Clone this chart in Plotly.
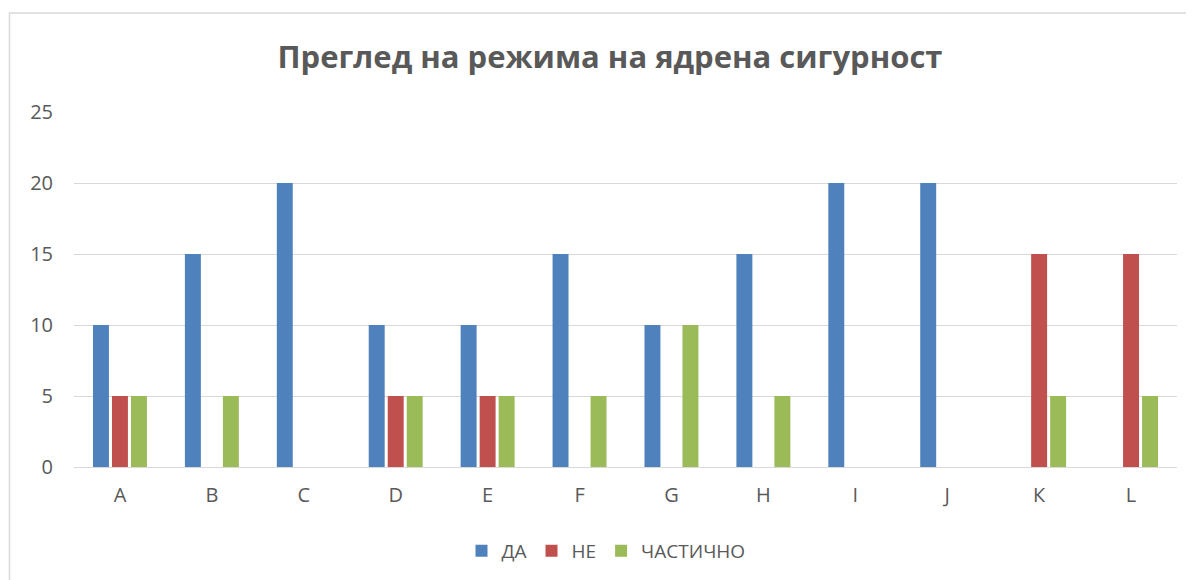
import plotly.graph_objects as go

categories = ["A", "B", "C", "D", "E", "F", "G", "H", "I", "J", "К", "L"]
da = [10, 15, 20, 10, 10, 15, 10, 15, 20, 20, 0, 0]
ne = [5, 0, 0, 5, 5, 0, 0, 0, 0, 0, 15, 15]
chastichno = [5, 5, 0, 5, 5, 5, 10, 5, 0, 0, 5, 5]

series = [("ДА", da, "#4F81BD"), ("НЕ", ne, "#C0504D"), ("ЧАСТИЧНО", chastichno, "#9BBB59")]

OFF = 8  # page body margin
W, H = 1194 - OFF, 580 - OFF
L, R, T, B = 74 - OFF, 17, 112 - OFF, 113

fig = go.Figure()
for name, vals, col in series:
    fig.add_trace(go.Bar(x=categories, y=vals, name=name, marker=dict(color=col, line=dict(width=0))))

pw = W - L - R
ph = H - T - B
def px_x(x):
    return (x - OFF - L) / pw
def px_y(y):
    return 1 - (y - OFF - T) / ph

fig.update_layout(
    width=W, height=H,
    margin=dict(l=L, r=R, t=T, b=B, autoexpand=False),
    paper_bgcolor="white", plot_bgcolor="white",
    barmode="group", bargap=0.38, bargroupgap=0.16,
    title=dict(text="<b>Преглед на режима на ядрена сигурност</b>", xref="paper", x=px_x(610), xanchor="center",
               y=1 - (57 - OFF) / H, yanchor="middle",
               font=dict(family="Open Sans, Noto Sans, sans-serif", size=31, color="#595959")),
    font=dict(family="Open Sans, Noto Sans, sans-serif", size=20, color="#595959"),
    xaxis=dict(showgrid=False, showline=True, linecolor="#D9D9D9", linewidth=1, ticks="",
               ticklabelstandoff=10, tickfont=dict(size=20, color="#595959")),
    yaxis=dict(range=[0, 25], dtick=5, showgrid=True, gridcolor="#D9D9D9", gridwidth=1,
               zeroline=False, showline=False, ticks="", ticklabelstandoff=20,
               tickfont=dict(size=20, color="#595959")),
    legend=dict(orientation="h", x=px_x(606), xanchor="center", y=px_y(551), yanchor="middle",
                font=dict(size=19, color="#595959"), itemwidth=30, traceorder="normal"),
    shapes=[dict(type="rect", xref="paper", yref="paper",
                 x0=px_x(9.5), x1=px_x(1194 + 5), y0=px_y(580 + 5), y1=px_y(13),
                 line=dict(color="#D9D9D9", width=1.5), fillcolor="rgba(0,0,0,0)", layer="below")],
)

fig.write_html("out.html")
